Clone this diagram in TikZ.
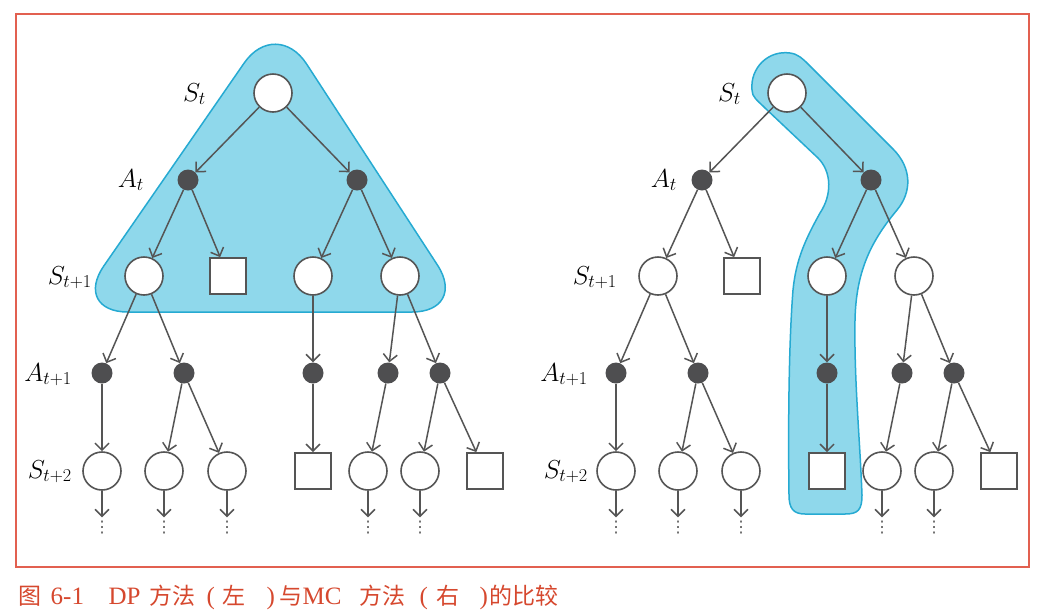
\RequirePackage{fix-cm}
\documentclass[tikz,border=0pt]{standalone}
\usepackage{fontspec}
\newfontfamily\cjk{Noto Sans CJK SC}
\newfontfamily\capserif{Liberation Serif}
\newfontfamily\dejavu{DejaVu Sans}
\usetikzlibrary{arrows.meta}
\definecolor{gc}{RGB}{85,85,85}
\definecolor{dc}{RGB}{78,78,80}
\definecolor{framec}{RGB}{226,96,80}
\definecolor{capc}{RGB}{214,72,46}
\definecolor{bfill}{RGB}{143,216,235}
\definecolor{bline}{RGB}{38,170,210}
\newcommand\cp[2]{\rlap{\kern#1pt #2}}
\newcommand\lat[1]{{\capserif\fontsize{25}{25}\selectfont #1}}
\newcommand\drawtree[2]{%
\begin{scope}[xshift=#2pt]
\node[stc] (#1r0) at (273,93) {};
\node[act] (#1a1) at (188,180) {};
\node[act] (#1a2) at (357,180) {};
\node[stc] (#1s1) at (144,276) {};
\node[sqr] (#1q1) at (228,276) {};
\node[stc] (#1s2) at (313,276) {};
\node[stc] (#1s3) at (400,276) {};
\node[act] (#1b1) at (102,373) {};
\node[act] (#1b2) at (184,373) {};
\node[act] (#1b3) at (313,373) {};
\node[act] (#1b4) at (388,373) {};
\node[act] (#1b5) at (440,373) {};
\node[stc] (#1t1) at (102,471) {};
\node[stc] (#1t2) at (164,471) {};
\node[stc] (#1t3) at (227,471) {};
\node[sqr] (#1u1) at (313,471) {};
\node[stc] (#1t4) at (368,471) {};
\node[stc] (#1t5) at (420,471) {};
\node[sqr] (#1u2) at (485,471) {};
\node[vd] (#1d1) at (102,528) {⋮};
\node[vd] (#1d2) at (164,528) {⋮};
\node[vd] (#1d3) at (227,528) {⋮};
\node[vd] (#1d4) at (368,528) {⋮};
\node[vd] (#1d5) at (420,528) {⋮};
\draw[arr] (#1r0) -- (#1a1);
\draw[arr] (#1r0) -- (#1a2);
\draw[arr] (#1a1) -- (#1s1);
\draw[arr] (#1a1) -- (#1q1);
\draw[arr] (#1a2) -- (#1s2);
\draw[arr] (#1a2) -- (#1s3);
\draw[arr] (#1s1) -- (#1b1);
\draw[arr] (#1s1) -- (#1b2);
\draw[arr] (#1s2) -- (#1b3);
\draw[arr] (#1s3) -- (#1b4);
\draw[arr] (#1s3) -- (#1b5);
\draw[arr] (#1b1) -- (#1t1);
\draw[arr] (#1b2) -- (#1t2);
\draw[arr] (#1b2) -- (#1t3);
\draw[arr] (#1b3) -- (#1u1);
\draw[arr] (#1b4) -- (#1t4);
\draw[arr] (#1b5) -- (#1t5);
\draw[arr] (#1b5) -- (#1u2);
\draw[arr, shorten >=4pt] (#1t1) -- (#1d1.north);
\draw[arr, shorten >=4pt] (#1t2) -- (#1d2.north);
\draw[arr, shorten >=4pt] (#1t3) -- (#1d3.north);
\draw[arr, shorten >=4pt] (#1t4) -- (#1d4.north);
\draw[arr, shorten >=4pt] (#1t5) -- (#1d5.north);
\end{scope}}
\begin{document}
\begin{tikzpicture}[x=1pt,y=-1pt,
  stc/.style={circle, draw=gc, line width=1.6pt, fill=white, minimum size=38pt, inner sep=0pt},
  sqr/.style={rectangle, draw=gc, line width=1.8pt, fill=white, minimum size=36pt, inner sep=0pt},
  act/.style={circle, fill=dc, minimum size=21pt, inner sep=0pt},
  arr/.style={draw=gc, line width=1.5pt, -{Straight Barb[length=7pt,width=14pt]}},
  lab/.style={anchor=base east, inner sep=0pt, font=\fontsize{26}{30}\selectfont},
  vd/.style={inner sep=0pt, text=gc, font=\dejavu\fontsize{16}{16}\selectfont},
  band/.style={fill=bfill, draw=bline, line width=1.5pt}]
\useasboundingbox (0,0) rectangle (1049,614);
\fill[white] (0,0) rectangle (1049,614);
\draw[framec, line width=1.3pt] (16,14) rectangle (1029,567);
% DP region
\draw[band, rounded corners=56pt] (270,312) -- (468,312) -- (276,17) -- (72,312) -- cycle;
% MC region
\draw[band] (752,90)
 .. controls (750,68) and (768,50) .. (790,53)
 .. controls (798,54) and (803,59) .. (808,64)
 -- (893,149)
 .. controls (912,168) and (912,192) .. (897,210)
 .. controls (872,240) and (856,270) .. (855,320)
 .. controls (854,380) and (860,440) .. (862,495)
 .. controls (862,510) and (858,514) .. (845,514)
 -- (805,514)
 .. controls (793,514) and (789,508) .. (789,495)
 .. controls (788,420) and (789,340) .. (793,290)
 .. controls (796,260) and (805,240) .. (820,213)
 .. controls (832,195) and (832,172) .. (818,158)
 -- (765,108)
 .. controls (757,100) and (752,97) .. (752,90)
 -- cycle;
\drawtree{L}{0}
\drawtree{R}{514}
% labels
\node[lab] (lSt) at (206,101) {$S_t$};
\node[lab] (lAt) at (144,187) {$A_t$};
\node[lab] (lS1) at (92,284) {$S_{t+1}$};
\node[lab] (lA1) at (72,381) {$A_{t+1}$};
\node[lab] (lS2) at (72,478) {$S_{t+2}$};
\node[lab] (rSt) at (741,101) {$S_t$};
\node[lab] (rAt) at (677,187) {$A_t$};
\node[lab] (rS1) at (617,284) {$S_{t+1}$};
\node[lab] (rA1) at (588,381) {$A_{t+1}$};
\node[lab] (rS2) at (588,478) {$S_{t+2}$};
% caption
\node[anchor=base west, inner sep=0pt, text=capc, font=\cjk\fontsize{23}{23}\selectfont] (cap) at (18,604)
 {\cp{0}{图}\cp{32}{\lat{6-1}}\cp{90}{\lat{DP}}\cp{131}{方法}\cp{188}{\lat{(}}\cp{204}{左}\cp{248}{\lat{)}}\cp{261}{与}\cp{284}{\lat{MC}}\cp{341}{方法}\cp{401}{\lat{(}}\cp{418}{右}\cp{461}{\lat{)}}\cp{471}{的比较}};
\end{tikzpicture}
\end{document}
